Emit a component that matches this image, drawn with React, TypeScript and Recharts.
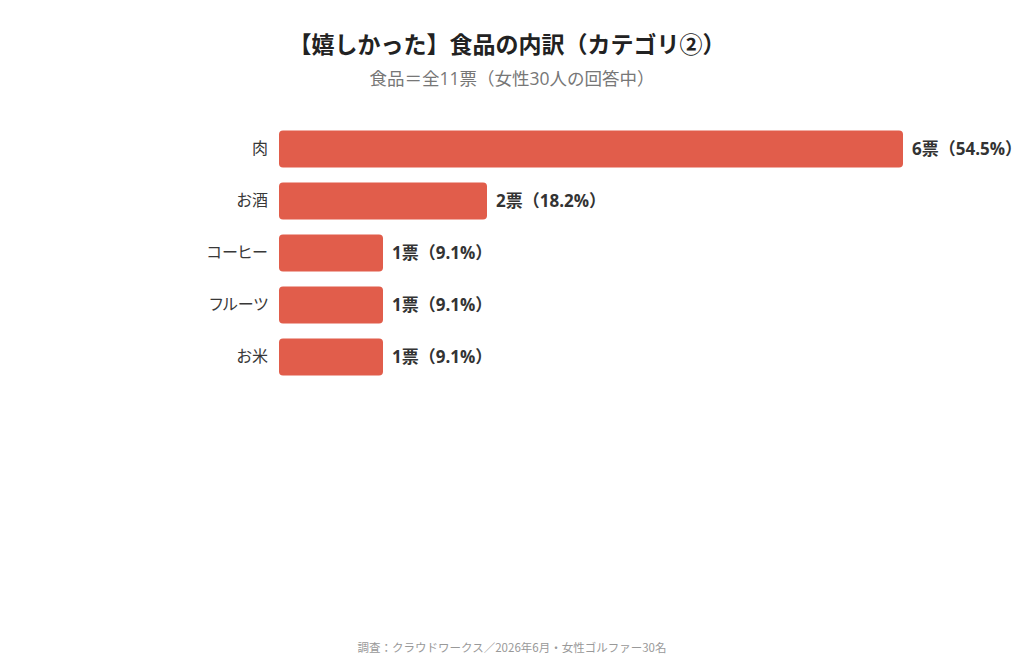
import { BarChart, Bar, XAxis, YAxis, LabelList } from "recharts";

const categories = ["肉", "お酒", "コーヒー", "フルーツ", "お米"];
const votes = [6, 2, 1, 1, 1];
const shares = [54.5, 18.2, 9.1, 9.1, 9.1];

const title = "【嬉しかった】食品の内訳（カテゴリ②）";
const subtitle = "食品＝全11票（女性30人の回答中）";
const footer = "調査：クラウドワークス／2026年6月・女性ゴルファー30名";

const font = '"Noto Sans CJK JP", "Noto Sans", sans-serif';
const numFont = '"Open Sans", "Noto Sans CJK JP", sans-serif';

const data = categories.map((name, i) => ({
  name,
  votes: votes[i],
  label: `${votes[i]}票（${shares[i]}%）`,
}));

function CategoryTick(props: any) {
  const { x, y, payload } = props;
  return (
    <text
      x={x}
      y={y}
      dy="0.355em"
      textAnchor="end"
      fill="#383838"
      fontSize={16}
      fontFamily={font}
      style={{ fontFeatureSettings: '"palt"' }}
    >
      {payload.value}
    </text>
  );
}

export default function App() {
  return (
    <div
      style={{
        position: "absolute",
        left: 0,
        top: 0,
        width: 1024,
        height: 670,
        background: "#fff",
        fontFamily: font,
      }}
    >
      <div
        style={{
          position: "absolute",
          top: 27,
          left: 0,
          width: 1014,
          textAlign: "center",
          fontSize: 23,
          fontWeight: 700,
          color: "#222",
          lineHeight: "32px",
        }}
      >
        {title}
      </div>
      <div
        style={{
          position: "absolute",
          top: 66,
          left: 0,
          width: 1024,
          textAlign: "center",
          fontSize: 17.5,
          color: "#777",
          lineHeight: "24px",
          fontFamily: numFont,
        }}
      >
        {subtitle}
      </div>
      <BarChart
        width={1024}
        height={670}
        data={data}
        layout="vertical"
        margin={{ top: 122.5, right: 121, bottom: 287.5, left: 0 }}
      >
        <XAxis type="number" domain={[0, 6]} hide />
        <YAxis
          type="category"
          dataKey="name"
          width={279}
          axisLine={false}
          tickLine={false}
          tickSize={0}
          tickMargin={11}
          tick={<CategoryTick />}
        />
        <Bar
          dataKey="votes"
          fill="#E15D4B"
          barSize={37}
          radius={4}
          isAnimationActive={false}
        >
          <LabelList
            dataKey="label"
            position="right"
            offset={9}
            style={{ fill: "#333", fontSize: 17, fontWeight: 700, fontFamily: numFont }}
          />
        </Bar>
      </BarChart>
      <div
        style={{
          position: "absolute",
          top: 638,
          left: 0,
          width: 1024,
          textAlign: "center",
          fontSize: 11.5,
          color: "#999",
          lineHeight: "18px",
        }}
      >
        {footer}
      </div>
    </div>
  );
}
